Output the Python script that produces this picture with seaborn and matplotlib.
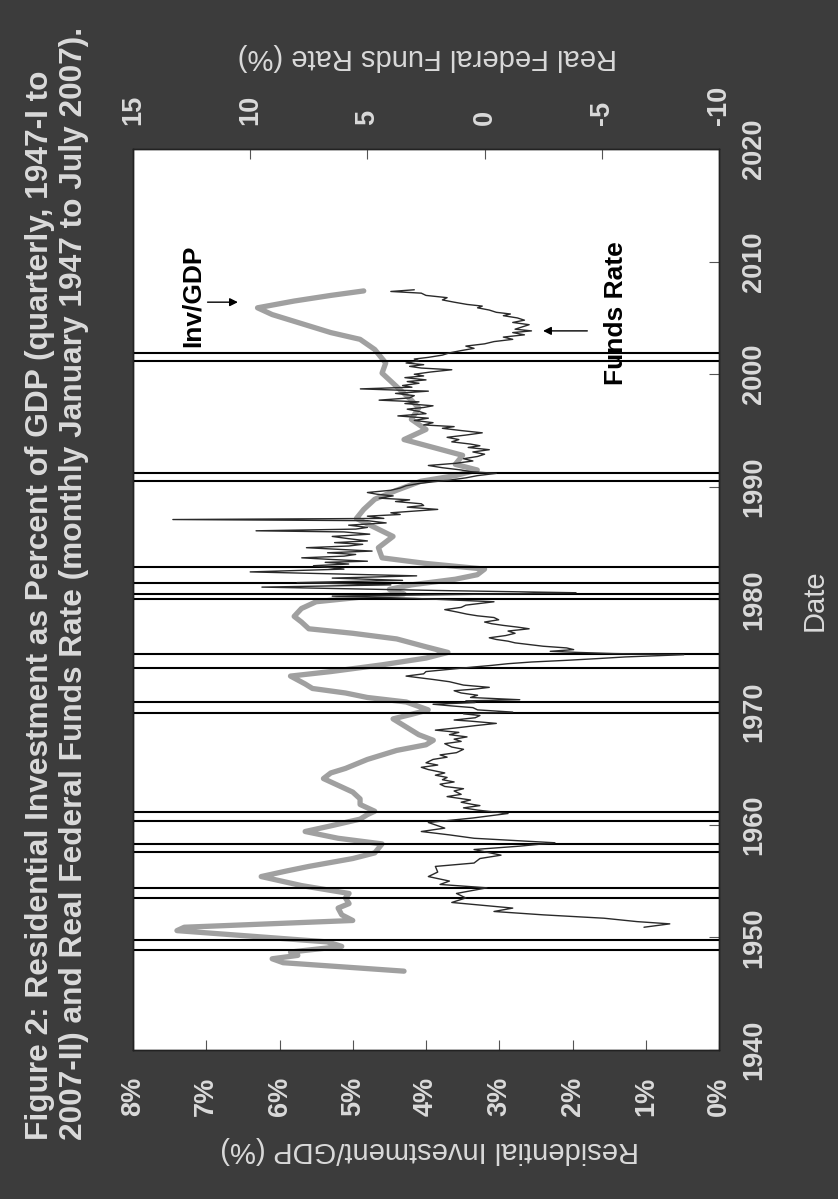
import numpy as np
import pandas as pd
import matplotlib
import matplotlib.pyplot as plt
import seaborn as sns

matplotlib.use('Agg')

inv_year = [1947.0, 1947.75, 1948.1, 1948.4, 1948.7, 1949.2, 1949.6, 1950.6, 1950.9,
            1951.5, 1952.0, 1952.6, 1953.0, 1953.5, 1953.9, 1954.6, 1955.4, 1955.9,
            1956.3, 1957.0, 1957.5, 1958.3, 1958.8, 1959.4, 1959.9, 1960.5, 1960.9,
            1961.2, 1961.8, 1962.3, 1962.9, 1963.5, 1964.1, 1964.6, 1965.0, 1965.8,
            1966.6, 1967.1, 1967.5, 1968.0, 1968.4, 1969.4, 1969.8, 1970.2, 1970.9,
            1971.3, 1971.7, 1972.1, 1972.5, 1973.2, 1973.6, 1974.2, 1974.8, 1975.3,
            1975.8, 1976.5, 1977.0, 1977.4, 1978.0, 1978.5, 1979.2, 1979.8, 1980.2,
            1980.5, 1980.9, 1981.3, 1981.8, 1982.2, 1982.7, 1983.2, 1983.7, 1984.6,
            1985.6, 1986.4, 1987.2, 1988.0, 1988.9, 1989.7, 1990.5, 1991.0, 1991.5,
            1992.0, 1992.8, 1993.5, 1994.2, 1995.1, 1996.0, 1997.0, 1997.7, 1998.9,
            2000.1, 2001.0, 2002.2, 2003.1, 2003.7, 2004.5, 2005.3, 2005.9, 2006.5,
            2007.0, 2007.4]
inv_pct = [4.30, 5.95, 6.10, 5.75, 5.85, 5.15, 5.35, 7.40, 7.30,
           5.00, 5.15, 5.20, 5.05, 5.10, 5.05, 5.70, 6.25, 5.90,
           5.60, 5.00, 4.70, 4.60, 5.20, 5.65, 5.30, 4.90, 4.80,
           4.70, 4.90, 4.90, 5.00, 5.20, 5.40, 5.30, 5.10, 4.80,
           4.40, 4.00, 3.90, 4.10, 4.20, 4.45, 4.20, 3.97, 4.27,
           4.80, 5.10, 5.55, 5.65, 5.85, 5.30, 4.60, 4.00, 3.70,
           4.00, 4.40, 5.00, 5.60, 5.70, 5.80, 5.70, 5.50, 4.90,
           4.30, 4.50, 4.20, 3.60, 3.30, 3.20, 4.00, 4.60, 4.65,
           4.45, 4.70, 4.95, 4.85, 4.70, 4.40, 4.07, 3.60, 3.30,
           3.60, 3.50, 3.90, 4.30, 4.00, 4.20, 4.10, 4.20, 4.40,
           4.60, 4.55, 4.70, 4.90, 5.30, 5.70, 6.10, 6.30, 5.80,
           5.30, 4.85]

# real funds rate, (year, %) pairs
fund_points = [
    (1950.9, -6.8), (1951.2, -7.9), (1951.4, -6.5), (1951.7, -5.1), (1952.0, -2.5),
    (1952.3, -0.4), (1952.6, -1.2), (1953.1, 1.4), (1953.5, 0.8), (1953.9, 1.2),
    (1954.4, -0.1), (1954.7, 1.9), (1955.0, 1.5), (1955.4, 2.4), (1955.8, 2.0),
    (1956.3, 2.1), (1956.6, 0.45), (1957.0, 0.2), (1957.3, -0.7), (1957.8, 0.45),
    (1958.1, -1.5), (1958.4, -3.0), (1958.8, 0.45), (1959.1, 1.5), (1959.4, 2.7),
    (1959.7, 1.7), (1960.2, 2.4), (1960.6, 0.5), (1961.0, -1.0), (1961.3, 0.3),
    (1961.5, 0.9), (1961.7, 0.2), (1961.8, 0.5), (1962.0, 1.0), (1962.2, 0.6),
    (1962.5, 1.6), (1962.7, 1.0), (1963.0, 1.3), (1963.2, 0.9), (1963.4, 1.7),
    (1963.6, 1.9), (1963.8, 1.3), (1964.0, 1.8), (1964.2, 1.6), (1964.4, 2.1),
    (1964.6, 1.7), (1964.9, 2.4), (1965.1, 2.7), (1965.3, 2.0), (1965.5, 2.5),
    (1965.8, 2.2), (1966.0, 1.6), (1966.2, 1.9), (1966.4, 1.2), (1966.7, 0.9),
    (1966.9, 1.4), (1967.2, 1.7), (1967.4, 1.0), (1967.6, 1.3), (1967.8, 0.75),
    (1968.0, 1.5), (1968.2, 1.1), (1968.4, 2.1), (1968.6, 1.2), (1968.8, 0.4),
    (1969.0, -0.5), (1969.2, 0.6), (1969.3, 1.3), (1969.5, 0.4), (1969.7, 0.2),
    (1969.85, 0.9), (1970.0, -1.2), (1970.2, 0.3), (1970.4, 0.5), (1970.55, 1.4),
    (1970.7, 2.2), (1970.85, 0.4), (1971.0, 0.8), (1971.1, -1.5), (1971.3, 0.6),
    (1971.5, 0.3), (1971.7, 1.0), (1971.9, 1.3), (1972.05, 0.4), (1972.2, -0.2),
    (1972.4, 0.9), (1972.7, 1.5), (1972.9, 2.2), (1973.2, 3.35), (1973.4, 2.6),
    (1973.6, 2.5), (1973.8, 1.5), (1974.0, 0.5), (1974.15, -0.3), (1974.3, -1.0),
    (1974.45, -2.0), (1974.6, -3.5), (1974.75, -4.8), (1974.9, -6.0), (1975.0, -7.2),
    (1975.1, -8.5), (1975.2, -5.5), (1975.3, -4.0), (1975.4, -2.8), (1975.55, -3.8),
    (1975.7, -3.5), (1975.85, -2.5), (1976.0, -1.9), (1976.15, -1.3), (1976.3, -1.0),
    (1976.45, -0.5), (1976.6, -0.2), (1976.8, -0.9), (1977.0, -1.3), (1977.2, -1.0),
    (1977.4, -1.9), (1977.55, -1.4), (1977.7, -0.8), (1977.85, -0.3), (1978.0, 0.0),
    (1978.2, -0.6), (1978.4, -0.4), (1978.55, 0.3), (1978.7, 0.75), (1978.9, 1.2),
    (1979.1, 1.7), (1979.3, 1.0), (1979.5, 0.8), (1979.65, 0.2), (1979.8, -0.4),
    (1980.1, 3.0), (1980.3, 6.5), (1980.5, -1.0), (1980.6, -3.9), (1980.8, 2.0),
    (1981.0, 7.0), (1981.1, 9.5), (1981.3, 4.0), (1981.5, 8.0), (1981.7, 3.5),
    (1981.9, 6.5), (1982.1, 2.9), (1982.3, 7.0), (1982.45, 10.0), (1982.7, 6.0),
    (1983.0, 7.3), (1983.15, 5.8), (1983.3, 6.8), (1983.4, 5.0), (1983.55, 6.5),
    (1983.7, 7.8), (1983.85, 6.0), (1984.0, 5.5), (1984.15, 6.7), (1984.3, 4.8),
    (1984.45, 6.2), (1984.6, 7.6), (1984.75, 5.8), (1984.9, 5.2), (1985.05, 6.4),
    (1985.2, 5.0), (1985.4, 5.8), (1985.6, 6.5), (1985.8, 4.9), (1986.0, 6.0),
    (1986.1, 9.75), (1986.25, 5.5), (1986.4, 5.0), (1986.6, 5.8), (1986.8, 4.2),
    (1987.0, 5.0), (1987.1, 13.3), (1987.2, 4.3), (1987.4, 5.0), (1987.55, 3.6),
    (1987.7, 4.0), (1987.85, 3.0), (1988.0, 2.0), (1988.2, 3.3), (1988.35, 2.6),
    (1988.5, 2.7), (1988.7, 3.8), (1988.85, 3.2), (1989.0, 4.5), (1989.2, 3.9),
    (1989.35, 4.6), (1989.5, 5.0), (1989.7, 4.0), (1989.9, 3.6), (1990.1, 3.35),
    (1990.3, 2.8), (1990.45, 2.2), (1990.6, 1.5), (1990.8, 0.8), (1991.0, 0.3),
    (1991.2, -0.5), (1991.35, 0.6), (1991.5, 1.0), (1991.7, 1.8), (1991.9, 2.4),
    (1992.1, 1.2), (1992.3, 0.5), (1992.5, 0.9), (1992.7, 0.3), (1992.9, 0.0),
    (1993.1, 0.5), (1993.3, -0.2), (1993.5, 0.7), (1993.65, 0.2), (1993.8, 0.6),
    (1994.0, 1.4), (1994.2, 1.1), (1994.4, 1.6), (1994.6, 0.8), (1994.8, 0.1),
    (1995.0, 1.0), (1995.2, 1.8), (1995.35, 1.3), (1995.5, 2.6), (1995.7, 2.2),
    (1995.9, 3.0), (1996.1, 2.4), (1996.3, 3.7), (1996.5, 2.5), (1996.7, 2.8),
    (1996.9, 3.3), (1997.05, 2.6), (1997.2, 2.2), (1997.4, 3.4), (1997.55, 2.8),
    (1997.7, 4.5), (1997.9, 3.2), (1998.1, 3.0), (1998.3, 3.8), (1998.5, 2.4),
    (1998.7, 5.3), (1998.85, 3.1), (1999.0, 3.5), (1999.2, 2.8), (1999.35, 3.3),
    (1999.5, 2.5), (1999.7, 3.4), (1999.85, 2.6), (2000.0, 3.0), (2000.2, 2.3),
    (2000.4, 1.4), (2000.55, 2.7), (2000.7, 3.2), (2000.85, 2.6), (2001.0, 3.35),
    (2001.2, 2.8), (2001.35, 3.0), (2001.5, 2.4), (2001.7, 1.8), (2001.9, 1.5),
    (2002.1, 1.0), (2002.3, 0.45), (2002.5, 0.8), (2002.7, 0.0), (2002.9, -0.4),
    (2003.1, -1.2), (2003.3, -0.8), (2003.5, -1.7), (2003.7, -1.2), (2003.85, -2.0),
    (2004.0, -1.3), (2004.2, -1.6), (2004.4, -1.9), (2004.6, -1.2), (2004.8, -1.7),
    (2005.0, -1.4), (2005.2, -0.8), (2005.35, -1.1), (2005.5, -0.5), (2005.7, -0.2),
    (2005.9, 0.3), (2006.05, 0.1), (2006.2, 0.75), (2006.4, 1.3), (2006.6, 1.8),
    (2006.8, 1.6), (2007.0, 2.5), (2007.2, 2.7), (2007.35, 4.0), (2007.5, 3.0),
]

recession_dates = [1948.9, 1949.8, 1953.5, 1954.4, 1957.6, 1958.3, 1960.3, 1961.1,
                   1969.9, 1970.9, 1973.9, 1975.2, 1980.0, 1980.5, 1981.5, 1982.9,
                   1990.5, 1991.2, 2001.2, 2001.9]

res_ticks = [8, 7, 6, 5, 4, 3, 2, 1, 0]
res_labels = ['8%', '7%', '6%', '5%', '4%', '3%', '2%', '1%', '0%']
fund_ticks = [15, 10, 5, 0, -5, -10]
fund_labels = ['15', '10', '5', '0', '-5', '-10']
year_ticks = [1940, 1950, 1960, 1970, 1980, 1990, 2000, 2010, 2020]

title_1 = 'Figure 2: Residential Investment as Percent of GDP (quarterly, 1947-I to'
title_2 = '2007-II) and Real Federal Funds Rate (monthly January 1947 to July 2007).'

bg = '#3c3c3c'
fg = '#dadada'

sns.set_style('white')
plt.rcParams['font.family'] = ['Liberation Sans', 'DejaVu Sans']

W, H = 838, 1199
fig = plt.figure(figsize=(W / 100, H / 100), dpi=100, facecolor=bg)
# page is printed sideways: date runs up, values run right-to-left
ax = fig.add_axes([133 / W, 149 / H, 586 / W, 901 / H])
ax.set_facecolor('white')

inv = pd.DataFrame({'year': inv_year, 'pct': inv_pct})
fund = pd.DataFrame(fund_points, columns=['year', 'rate'])

sns.lineplot(data=inv, x='pct', y='year', orient='y', sort=False, estimator=None,
             color='#a0a0a0', lw=3.8, ax=ax)
for d in recession_dates:
    ax.axhline(d, color='black', lw=1.5, zorder=5)
ax.set_xlim(8, 0)
ax.set_ylim(1940, 2020)

ax2 = ax.twiny()
sns.lineplot(data=fund, x='rate', y='year', orient='y', sort=False, estimator=None,
             color='#2a2a2a', lw=1.0, ax=ax2)
ax2.set_xlim(15, -10)
ax2.set_ylim(1940, 2020)

tick_kw = dict(fontsize=19.5, fontweight='bold', color=fg, rotation=90)
ax.set_xticks(res_ticks)
ax.set_xticklabels(res_labels, **tick_kw)
ax.yaxis.tick_right()
ax.set_yticks(year_ticks)
ax.set_yticklabels([str(y) for y in year_ticks], va='center', **tick_kw)
ax.tick_params(axis='x', direction='in', length=7, width=0.8, color='#555555', pad=19)
ax.tick_params(axis='y', direction='in', length=7, width=0.8, color='#555555', pad=16)
ax.set_xlabel('')
ax.set_ylabel('')

ax2.set_xticks(fund_ticks)
ax2.set_xticklabels(fund_labels, **tick_kw)
ax2.tick_params(axis='x', direction='in', length=7, width=0.8, color='#555555', pad=17)
ax2.set_xlabel('')
ax2.set_ylabel('')

for a in (ax, ax2):
    for s in a.spines.values():
        s.set_color('#222222')
        s.set_linewidth(1.0)

# annotations
ax.annotate('', xy=(6.53, 2006.4), xytext=(7.02, 2006.4),
            arrowprops=dict(arrowstyle='-|>', color='black', lw=1.0, mutation_scale=12))
ax.text(7.18, 2007.0, 'Inv/GDP', rotation=90, ha='center', va='center',
        fontsize=19, fontweight='bold', color='black')
ax.annotate('', xy=(2.44, 2003.85), xytext=(1.76, 2003.85),
            arrowprops=dict(arrowstyle='-|>', color='black', lw=1.0, mutation_scale=12))
ax.text(1.41, 2005.45, 'Funds Rate', rotation=90, ha='center', va='center',
        fontsize=19, fontweight='bold', color='black')

# titles and axis labels
fig.text(40 / W, 1 - 1140 / H, title_1, rotation=90, ha='center', va='bottom',
         fontsize=22.8, fontweight='bold', color=fg)
fig.text(74 / W, 1 - 1140 / H, title_2, rotation=90, ha='center', va='bottom',
         fontsize=22.8, fontweight='bold', color=fg)
fig.text(427 / W, 1 - 57 / H, 'Real Federal Funds Rate (%)', rotation=180,
         ha='center', va='center', fontsize=21, color=fg)
fig.text(430 / W, 1 - 1150 / H, 'Residential Investment/GDP (%)', rotation=180,
         ha='center', va='center', fontsize=21, color=fg)
fig.text(815 / W, 1 - 600 / H, 'Date', rotation=90, ha='center', va='center',
         fontsize=21, color=fg)

fig.savefig('out.png', dpi=100, facecolor=bg)
